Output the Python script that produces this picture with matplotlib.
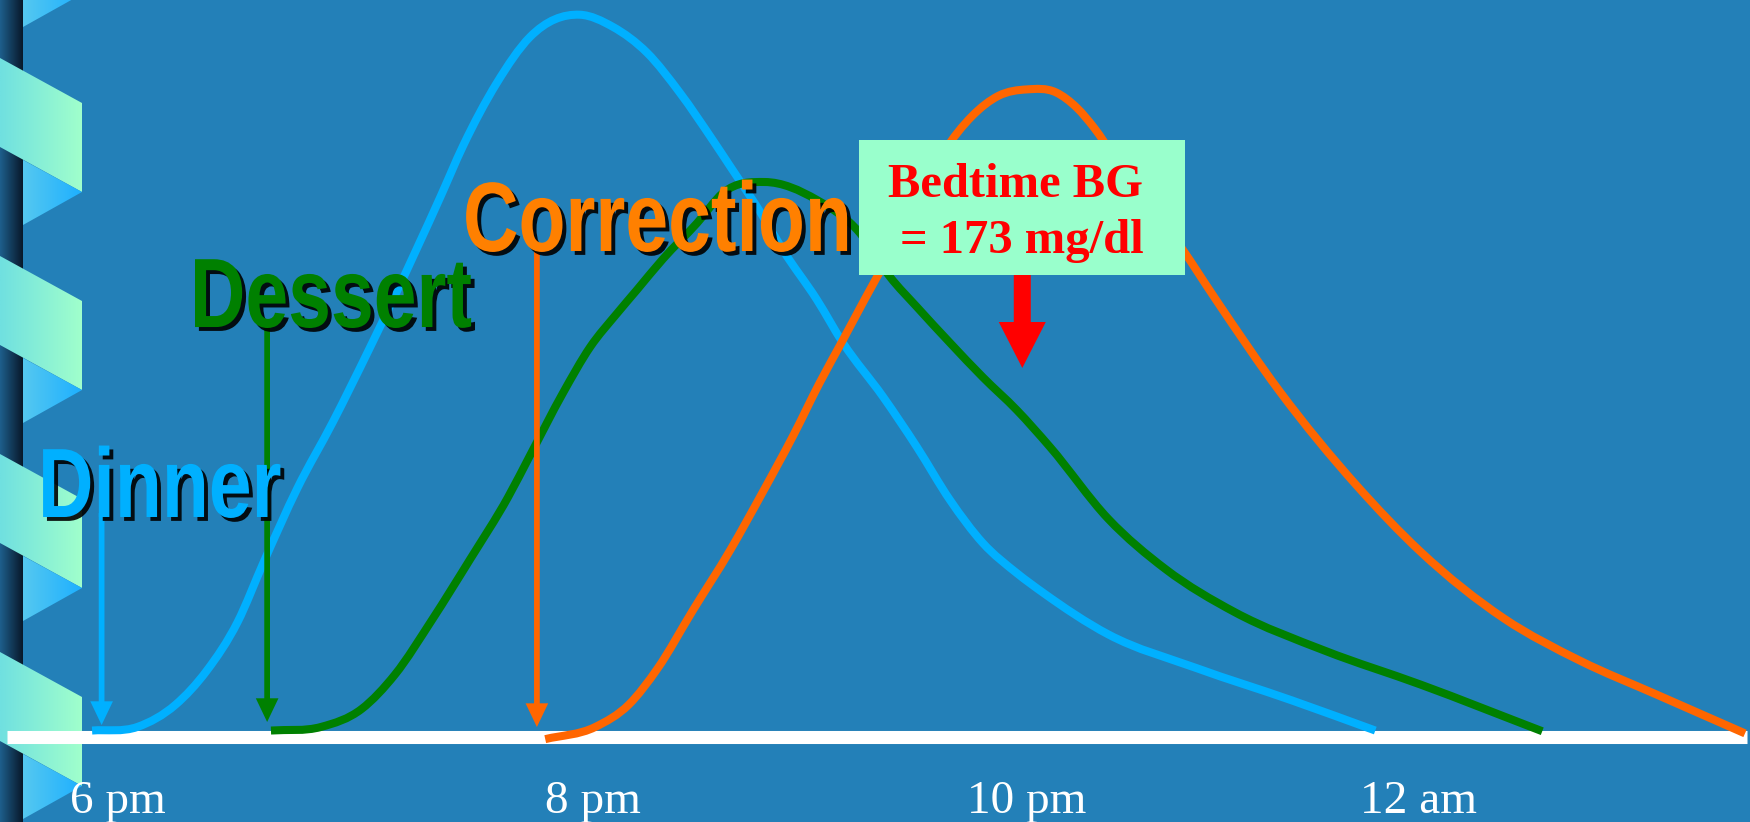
import numpy as np
import matplotlib

matplotlib.use("Agg")
import matplotlib.pyplot as plt
from matplotlib import patheffects
from matplotlib.patches import Polygon, Rectangle, PathPatch
from matplotlib.path import Path
from matplotlib.transforms import Affine2D

# ---------------------------------------------------------------------------
# Data: time in hours (18 = 6 pm), BG rise in arbitrary
# units (peak of the dinner curve ~ 100).
# ---------------------------------------------------------------------------
dinner_hours = [17.89, 18.08, 18.24, 18.37, 18.50, 18.61, 18.75, 18.90, 19.05, 19.16,
                19.35, 19.445, 19.587, 19.726, 19.935, 20.074, 20.217, 20.355, 20.493,
                20.565, 20.703, 20.787, 20.929, 21.038, 21.206, 21.348, 21.487, 21.625,
                21.768, 21.877, 22.15, 22.52, 22.92, 23.27]
dinner_rise = [0.9, 1.4, 4.5, 9.2, 16.0, 24.4, 34.6, 43.9, 53.9, 61.5,
               75.2, 82.3, 91.1, 97.5, 100.6, 98.9, 95.3, 89.7, 83.1,
               79.5, 72.5, 67.8, 60.9, 54.9, 47.4, 40.4, 33.0, 27.0,
               22.8, 20.1, 14.3, 9.6, 5.1, 0.9]

dessert_hours = [18.64, 18.85, 19.02, 19.16, 19.315, 19.474, 19.634, 19.726, 19.864, 19.978,
                 20.091, 20.175, 20.284, 20.427, 20.536, 20.71, 20.929, 21.109, 21.235,
                 21.348, 21.487, 21.625, 21.768, 21.906, 22.15, 22.39, 22.68, 23.06,
                 23.46, 23.97]
dessert_rise = [0.9, 1.4, 3.9, 8.7, 16.3, 24.7, 33.4, 39.2, 47.9, 54.3,
                59.0, 62.3, 66.6, 71.6, 75.8, 77.3, 74.8, 70.2, 64.1,
                59.9, 54.9, 50.1, 45.5, 40.4, 30.4, 23.4, 17.4, 12.0,
                7.3, 0.8]

correction_hours = [19.79, 20.00, 20.14, 20.26, 20.41, 20.565, 20.70, 20.83, 20.94, 21.038,
                    21.13, 21.34, 21.46, 21.58, 21.69, 21.81, 21.93, 22.02, 22.09,
                    22.18, 22.32, 22.46, 22.60, 22.87, 23.19, 23.46, 23.81, 24.13, 24.45,
                    24.82]
correction_rise = [-0.3, 1.4, 4.5, 9.5, 17.7, 26.0, 34.0, 42.0, 49.3, 55.3,
                   61.0, 73.6, 81.4, 86.5, 89.3, 90.2, 89.8, 87.6, 84.9,
                   80.6, 74.4, 68.0, 61.0, 48.1, 35.1, 25.8, 16.5, 10.6, 5.9,
                   0.5]

# the slide's time labels are not evenly spaced
tick_hours = [18.0, 19.99, 21.81, 23.45]
tick_labels = ["6 pm", "8 pm", "10 pm", "12 am"]

event_names = ["Dinner", "Dessert", "Correction"]
event_hours = [17.93, 18.624, 19.755]

bedtime_lines = ["Bedtime BG", "= 173 mg/dl"]

# ---------------------------------------------------------------------------
# Style
# ---------------------------------------------------------------------------
BG = "#2380b8"
BLUE = "#00b0ff"
GREEN = "#008000"
ORANGE = "#ff6600"
ORANGE_TEXT = "#ff8000"
MINT = "#99ffcc"
RED = "#ff0000"
SERIF = "Liberation Serif"
LABEL_FONT = "Liberation Sans"  # squeezed below to look like Arial Narrow
CURVE_LW = 5.8


class NarrowShadow(patheffects.AbstractPathEffect):
    """Squeeze text horizontally about its start and give it a drop shadow."""

    def __init__(self, sx=0.78, offset=(2.8, -2.8), alpha=0.9):
        super().__init__()
        self.sx = sx
        self.off = offset
        self.alpha = alpha

    def draw_path(self, renderer, gc, tpath, affine, rgbFace=None):
        x0 = affine.get_matrix()[0, 2]
        squeeze = affine + Affine2D().translate(-x0, 0).scale(self.sx, 1).translate(x0, 0)
        dx = renderer.points_to_pixels(self.off[0])
        dy = renderer.points_to_pixels(self.off[1])
        gc0 = renderer.new_gc()
        gc0.copy_properties(gc)
        gc0.set_foreground("black")
        gc0.set_alpha(self.alpha)
        renderer.draw_path(gc0, tpath, squeeze + Affine2D().translate(dx, dy), (0, 0, 0))
        gc0.restore()
        renderer.draw_path(gc, tpath, squeeze, rgbFace)


def smooth_path(xs, ys):
    """Smooth curve through the read points (cubic Hermite as Bezier segments)."""
    x = np.asarray(xs, float)
    y = np.asarray(ys, float)
    dx = np.diff(x)
    d = np.diff(y) / dx
    m = np.empty_like(y)
    m[0], m[-1] = d[0], d[-1]
    m[1:-1] = (d[:-1] * dx[1:] + d[1:] * dx[:-1]) / (dx[:-1] + dx[1:])
    verts, codes = [(x[0], y[0])], [Path.MOVETO]
    for i in range(len(x) - 1):
        h = dx[i] / 3
        verts += [(x[i] + h, y[i] + m[i] * h), (x[i + 1] - h, y[i + 1] - m[i + 1] * h),
                  (x[i + 1], y[i + 1])]
        codes += [Path.CURVE4] * 3
    return Path(verts, codes)


W, H = 1750, 822
fig = plt.figure(figsize=(W / 100, H / 100), dpi=100)
fig.patch.set_facecolor(BG)

# background / slide decoration, in pixel units
ax_bg = fig.add_axes([0, 0, 1, 1])
ax_bg.set_facecolor(BG)
ax_bg.axis("off")


def gradient_poly(ax, verts, c_left, c_right, z):
    poly = Polygon(verts, closed=True, facecolor="none", edgecolor="none")
    ax.add_patch(poly)
    xs = [v[0] for v in verts]
    ys = [v[1] for v in verts]
    t = np.linspace(0, 1, 64)[:, None]
    rgb = (np.array(c_left) * (1 - t) + np.array(c_right) * t) / 255.0
    im = ax.imshow(rgb[None, :, :], extent=(min(xs), max(xs), max(ys), min(ys)),
                   aspect="auto", interpolation="bilinear", zorder=z)
    im.set_clip_path(poly)


gradient_poly(ax_bg, [(0, 0), (23, 0), (23, H), (0, H)], (30, 95, 140), (8, 24, 42), 1)
period = 198
for k in range(-1, 4):
    y0 = 58 + k * period
    gradient_poly(ax_bg, [(0, y0), (82, y0 + 45), (82, y0 + 134), (0, y0 + 89)],
                  (112, 224, 224), (160, 255, 204), 2)
    gradient_poly(ax_bg, [(23, y0 + 102), (82, y0 + 134), (23, y0 + 167)],
                  (85, 200, 240), (30, 176, 255), 2)
ax_bg.set_xlim(0, W)
ax_bg.set_ylim(H, 0)

# main chart axes
ax = fig.add_axes([0, 0, 1, 1])
ax.set_facecolor("none")
ax.axis("off")
ax.set_xlim(17.504, 24.841)
ax.set_ylim(-11.84, 102.65)

ax.axhline(0, xmin=7 / W, xmax=1747 / W, color="white", lw=9.4,
           solid_capstyle="butt", zorder=1)

for hrs, rise, col in [(dinner_hours, dinner_rise, BLUE),
                       (dessert_hours, dessert_rise, GREEN),
                       (correction_hours, correction_rise, ORANGE)]:
    ax.add_patch(PathPatch(smooth_path(hrs, rise), facecolor="none", edgecolor=col,
                           lw=CURVE_LW, capstyle="butt", joinstyle="round", zorder=2))

# event arrows and labels
arrow_cols = [BLUE, GREEN, ORANGE]
text_cols = [BLUE, GREEN, ORANGE_TEXT]
arrow_top = [31.2, 57.1, 67.7]
arrow_tip = [1.67, 2.09, 1.39]
label_x = [17.663, 18.30, 19.445]
label_y = [30.64, 57.10, 67.69]
for name, hx, col, tcol, top, tip, lx, ly in zip(event_names, event_hours, arrow_cols,
                                                  text_cols, arrow_top, arrow_tip,
                                                  label_x, label_y):
    ax.arrow(hx, top, 0, tip - top, width=0.024, head_width=0.095, head_length=3.3,
             length_includes_head=True, color=col, lw=0, zorder=3)
    ax.text(lx, ly, name, color=tcol, fontsize=71, fontweight="bold",
            family=LABEL_FONT, ha="left", va="baseline",
            path_effects=[NarrowShadow()], zorder=4)

# bedtime call-out
ax.add_patch(Rectangle((21.105, 64.35), 22.474 - 21.105, 83.15 - 64.35,
                       facecolor=MINT, edgecolor="none", zorder=5))
ax.arrow(21.79, 65.0, 0, 51.4 - 65.0, width=0.0713, head_width=0.197, head_length=6.4,
         length_includes_head=True, color=RED, lw=0, zorder=4)
ax.text(21.76, 75.2, bedtime_lines[0], color=RED, fontsize=35, fontweight="bold",
        family=SERIF, ha="center", va="baseline", zorder=6)
ax.text(21.789, 67.4, bedtime_lines[1], color=RED, fontsize=35, fontweight="bold",
        family=SERIF, ha="center", va="baseline", zorder=6)

# time labels
for hx, lab in zip(tick_hours, tick_labels):
    ax.text(hx, -10.6, lab, color="white", fontsize=34, family=SERIF,
            ha="center", va="baseline", zorder=4)

fig.savefig("out.png", dpi=100, facecolor=BG)
